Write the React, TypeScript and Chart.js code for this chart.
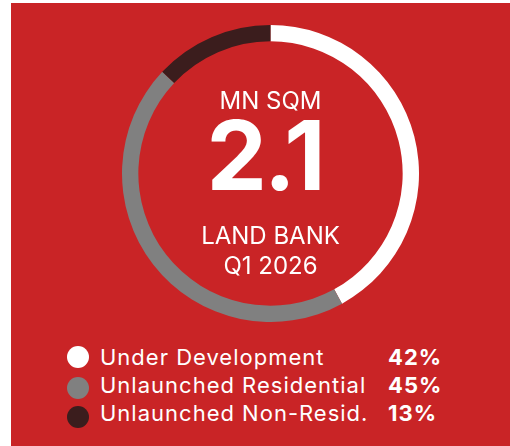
import React, { useEffect, useRef } from "react";
import { Chart, registerables } from "chart.js";

Chart.register(...registerables);

const categories = ["Under Development", "Unlaunched Residential", "Unlaunched Non-Resid."];
const shares = [42, 45, 13];
const colors = ["#ffffff", "#808080", "#3b1d1d"];
const centerLines = ["MN SQM", "2.1", "LAND BANK", "Q1 2026"];

const RED = "rgb(201,36,38)";
const FONT = "Inter, 'Noto Sans', sans-serif";

export default function App() {
  const ref = useRef<HTMLCanvasElement | null>(null);

  useEffect(() => {
    if (!ref.current) return;
    const chart = new Chart(ref.current, {
      type: "doughnut",
      data: {
        labels: categories,
        datasets: [
          {
            data: shares,
            backgroundColor: colors,
            borderWidth: 0,
            hoverOffset: 0,
          },
        ],
      },
      options: {
        animation: false,
        responsive: false,
        maintainAspectRatio: false,
        cutout: "89%",
        layout: { padding: 0 },
        plugins: {
          legend: { display: false },
          tooltip: { enabled: false },
        },
      },
    });
    return () => chart.destroy();
  }, []);

  const textStyle = (top: number, size: number, weight: number, ls = 0, dx = 0): React.CSSProperties => ({
    position: "absolute",
    left: dx,
    width: 541,
    top,
    textAlign: "center",
    fontFamily: FONT,
    fontSize: size,
    fontWeight: weight,
    lineHeight: `${size}px`,
    letterSpacing: ls,
    color: "#ffffff",
    whiteSpace: "nowrap",
  });

  const circleTops = [346, 377, 406];
  const textTops = [346, 374, 402];

  return (
    <div style={{ position: "absolute", left: 0, top: 0, width: 510, height: 446, overflow: "hidden" }}>
      <div style={{ position: "absolute", left: 11, top: 3, width: 499, height: 443, background: RED }} />
      <div style={{ position: "absolute", left: 122, top: 25, width: 297, height: 297 }}>
        <canvas ref={ref} width={297} height={297} style={{ width: 297, height: 297, display: "block" }} />
      </div>
      <div style={textStyle(88.7, 24, 400)}>{centerLines[0]}</div>
      <div style={textStyle(106.8, 96, 700, -3, -6)}>{centerLines[1]}</div>
      <div style={textStyle(223.7, 24, 400)}>{centerLines[2]}</div>
      <div style={textStyle(253.7, 24, 400)}>{centerLines[3]}</div>
      {categories.map((c, i) => (
        <React.Fragment key={c}>
          <div
            style={{
              position: "absolute",
              left: 67,
              top: circleTops[i],
              width: 22,
              height: 22,
              borderRadius: "50%",
              background: colors[i],
            }}
          />
          <div
            style={{
              position: "absolute",
              left: 100,
              top: textTops[i],
              fontFamily: FONT,
              fontSize: 22,
              lineHeight: "22px",
              letterSpacing: 1,
              color: "#fff",
              whiteSpace: "nowrap",
            }}
          >
            {c}
          </div>
          <div
            style={{
              position: "absolute",
              left: 388,
              top: textTops[i],
              fontFamily: FONT,
              fontSize: 22,
              fontWeight: 700,
              lineHeight: "22px",
              letterSpacing: 1,
              color: "#fff",
              whiteSpace: "nowrap",
            }}
          >
            {shares[i]}%
          </div>
        </React.Fragment>
      ))}
    </div>
  );
}
